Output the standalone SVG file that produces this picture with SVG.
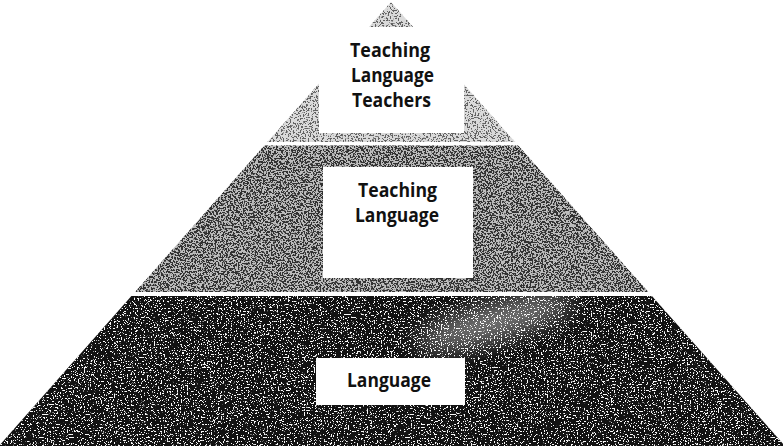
<svg xmlns="http://www.w3.org/2000/svg" width="783" height="446" viewBox="0 0 783 446">
  <style>
    .lbl { font-family: "Open Sans", "Liberation Sans", sans-serif; font-weight: 700; font-size: 20px; fill: #111; text-anchor: middle; }
    .box { fill: #ffffff; }
  </style>
  <defs>
    <filter id="spkTop" x="0" y="0" width="100%" height="100%">
      <feTurbulence type="fractalNoise" baseFrequency="0.6" numOctaves="3" seed="3" result="t"/>
      <feColorMatrix in="t" type="matrix" values="0 0 0 0 0.12  0 0 0 0 0.12  0 0 0 0 0.12  -20 0 0 0 9.2" result="s"/>
      <feComposite in="s" in2="SourceGraphic" operator="in"/>
    </filter>
    <filter id="spkMid" x="0" y="0" width="100%" height="100%">
      <feTurbulence type="fractalNoise" baseFrequency="0.6" numOctaves="3" seed="7" result="t"/>
      <feColorMatrix in="t" type="matrix" values="0 0 0 0 0.03  0 0 0 0 0.03  0 0 0 0 0.03  -20 0 0 0 10.4" result="s"/>
      <feComposite in="s" in2="SourceGraphic" operator="in"/>
    </filter>
    <filter id="spkBot" x="0" y="0" width="100%" height="100%">
      <feTurbulence type="fractalNoise" baseFrequency="0.7" numOctaves="3" seed="11" result="t"/>
      <feColorMatrix in="t" type="matrix" values="0 0 0 0 0.95  0 0 0 0 0.95  0 0 0 0 0.95  20 0 0 0 -12" result="s"/>
      <feComposite in="s" in2="SourceGraphic" operator="in"/>
    </filter>
    <filter id="blur" x="-50%" y="-50%" width="200%" height="200%">
      <feGaussianBlur stdDeviation="12"/>
    </filter>
    <clipPath id="clipBot">
      <polygon points="131.4,296 651.9,296 785,446 -1,446"/>
    </clipPath>
  </defs>

  <rect width="783" height="446" fill="#ffffff"/>

  <g id="layer-top">
    <polygon points="391,2 515.2,142 267.4,142" fill="#dadada"/>
    <polygon points="391,2 515.2,142 267.4,142" fill="#000" filter="url(#spkTop)"/>
    <rect class="box" x="319" y="27" width="145" height="106"/>
    <text class="lbl" x="390" y="57" textLength="80" lengthAdjust="spacingAndGlyphs">Teaching</text>
    <text class="lbl" x="392.5" y="82" textLength="83" lengthAdjust="spacingAndGlyphs">Language</text>
    <text class="lbl" x="391.5" y="107" textLength="79" lengthAdjust="spacingAndGlyphs">Teachers</text>
  </g>

  <g id="layer-middle">
    <polygon points="264.3,145.5 518.3,145.5 648.3,292 135,292" fill="#bcbcbc"/>
    <polygon points="264.3,145.5 518.3,145.5 648.3,292 135,292" fill="#000" filter="url(#spkMid)"/>
    <rect class="box" x="323" y="167" width="150" height="111"/>
    <text class="lbl" x="397.5" y="197" textLength="79" lengthAdjust="spacingAndGlyphs">Teaching</text>
    <text class="lbl" x="397" y="222" textLength="84" lengthAdjust="spacingAndGlyphs">Language</text>
  </g>

  <g id="layer-bottom">
    <polygon points="131.4,296 651.9,296 785,446 -1,446" fill="#121212"/>
    <polygon points="131.4,296 651.9,296 785,446 -1,446" fill="#000" filter="url(#spkBot)"/>
    <g clip-path="url(#clipBot)">
      <ellipse cx="495" cy="322" rx="80" ry="16" transform="rotate(-16 495 322)" fill="#ffffff" opacity="0.45" filter="url(#blur)"/>
    </g>
    <rect class="box" x="316" y="358" width="149" height="47"/>
    <text class="lbl" x="389" y="387" textLength="84" lengthAdjust="spacingAndGlyphs">Language</text>
  </g>

  <g id="connectors"/>
</svg>
